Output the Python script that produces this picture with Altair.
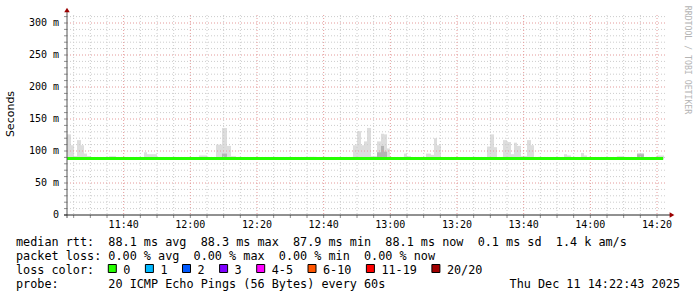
import altair as alt
import pandas as pd

# ---------------- data ----------------
def mins(s):
    p = s.split(":")
    sec = int(p[2]) if len(p) > 2 else 0
    return (int(p[0]) - 11) * 60 + int(p[1]) + sec / 60.0

smoke_start = ["11:23:00", "11:24:12", "11:25:06", "11:26:00", "11:27:12", "11:28:06", "11:29:00",
               "11:35:36", "11:46:06", "11:47:00", "12:02:36",
               "12:07:42", "12:09:30", "12:11:00", "12:12:12", "12:23:54", "12:35:36",
               "12:48:48", "12:50:00", "12:51:12", "12:52:06", "12:53:00", "12:54:12",
               "12:56:00", "12:57:12", "12:58:06", "12:59:00", "13:04:06", "13:05:00",
               "13:10:42", "13:12:12", "13:13:06", "13:14:00",
               "13:29:00", "13:29:54", "13:31:06",
               "13:33:48", "13:35:00", "13:36:12", "13:37:06", "13:38:00", "13:39:12", "13:41:00", "13:42:12",
               "13:52:06", "13:53:00", "13:57:12", "13:58:06", "14:05:00", "14:08:00", "14:14:00", "14:20:00"]
smoke_end = ["11:24:12", "11:25:06", "11:26:00", "11:27:12", "11:28:06", "11:29:00", "11:30:12",
             "11:37:42", "11:47:00", "11:50:00", "12:05:00",
             "12:09:30", "12:11:00", "12:12:12", "12:13:42", "12:26:00", "12:37:42",
             "12:50:00", "12:51:12", "12:52:06", "12:53:00", "12:54:12", "12:56:00",
             "12:57:12", "12:58:06", "12:59:00", "12:59:54", "13:05:00", "13:06:12",
             "13:12:12", "13:13:06", "13:14:00", "13:15:12",
             "13:29:54", "13:31:06", "13:32:00",
             "13:35:00", "13:36:12", "13:37:06", "13:38:00", "13:39:12", "13:41:00", "13:42:12", "13:43:06",
             "13:53:00", "13:54:12", "13:58:06", "13:59:00", "14:08:00", "14:09:48", "14:16:06", "14:22:06"]
smoke_top = [126, 109, 92, 117, 109, 96, 92,
             92, 98, 95, 93,
             110, 136, 108, 92, 90, 91,
             109, 131, 109, 115, 136, 92,
             115, 127, 126, 104, 96, 92,
             96, 94, 120, 109,
             107, 126, 106,
             117, 114, 95, 113, 108, 92, 117, 109,
             95, 93, 97, 93, 90, 92, 97, 93]

dark_start = ["12:09:30", "12:56:00", "12:57:12", "12:58:06", "14:14:00"]
dark_end = ["12:11:00", "12:57:12", "12:58:06", "12:59:00", "14:16:06"]
dark_top = [96, 98, 108, 99, 95]

smoke_floor = 87.0

median_times = ["11:23:00", "14:21:50"]
median_vals = [88.1, 88.1]

x_major = [40, 60, 80, 100, 120, 140, 160, 180, 200]          # minutes after 11:00
x_major_labels = ["11:40", "12:00", "12:20", "12:40", "13:00", "13:20", "13:40", "14:00", "14:20"]
x_minor = [m for m in range(25, 205, 5) if m % 20 != 0]
x_all = list(range(25, 205, 5))
y_major = [50, 100, 150, 200, 250, 300]
y_label_vals = [0, 50, 100, 150, 200, 250, 300]
y_labels = ["0", "50 m", "100 m", "150 m", "200 m", "250 m", "300 m"]
y_minor = [v for v in range(10, 320, 10) if v % 50 != 0]
y_all = list(range(0, 320, 10))

line1 = "median rtt:  88.1 ms avg  88.3 ms max  87.9 ms min  88.1 ms now  0.1 ms sd  1.4 k am/s"
line2 = "packet loss: 0.00 % avg  0.00 % max  0.00 % min  0.00 % now"
line3 = "loss color:"
line4 = "probe:       20 ICMP Echo Pings (56 Bytes) every 60s"
date_text = "Thu Dec 11 14:22:43 2025"
loss_labels = ["0", "1", "2", "3", "4-5", "6-10", "11-19", "20/20"]
loss_colors = ["#26ff00", "#00b8ff", "#0059ff", "#7e00ff", "#ff00ff", "#ff5500", "#ff0000", "#a10000"]

# ---------------- layout ----------------
W, H = 600, 200
CW = 7.1
MONO = "DejaVu Sans Mono"
nb = lambda s: s.replace(" ", "\u00a0")

xscale = alt.Scale(domain=[23, 203], nice=False, zero=False)
yscale = alt.Scale(domain=[0, 312.5], nice=False, zero=False)

smoke_df = pd.DataFrame({"t": [mins(s) for s in smoke_start], "t2": [mins(s) for s in smoke_end],
                         "lo": smoke_floor, "hi": smoke_top})
dark_df = pd.DataFrame({"t": [mins(s) for s in dark_start], "t2": [mins(s) for s in dark_end],
                        "lo": smoke_floor, "hi": dark_top})
med_df = pd.DataFrame({"t": [mins(s) for s in median_times], "v": median_vals})
dummy = pd.DataFrame({"a": [0]})

X = lambda f: alt.X(f, scale=xscale, axis=None, title=None)
Y = lambda f: alt.Y(f, scale=yscale, axis=None, title=None)

smoke = alt.Chart(smoke_df).mark_rect(color="#dddddd").encode(
    x=X("t:Q"), x2="t2:Q", y=Y("lo:Q"), y2="hi:Q")
dark = alt.Chart(dark_df).mark_rect(color="#b4b4b4").encode(
    x=X("t:Q"), x2="t2:Q", y=Y("lo:Q"), y2="hi:Q")

def vgrid(vals, color):
    return alt.Chart(pd.DataFrame({"t": vals})).mark_rule(color=color, strokeDash=[1, 2], strokeWidth=1).encode(
        x=X("t:Q"), y=alt.value(0), y2=alt.value(H))

def hgrid(vals, color):
    return alt.Chart(pd.DataFrame({"v": vals})).mark_rule(color=color, strokeDash=[1, 2], strokeWidth=1).encode(
        y=Y("v:Q"), x=alt.value(0), x2=alt.value(W))

grid = [vgrid(x_minor, "#cccccc"), hgrid(y_minor, "#cccccc"),
        vgrid(x_major, "#e49a9a"), hgrid(y_major, "#e49a9a")]

xticks = alt.Chart(pd.DataFrame({"t": x_all})).mark_rule(color="#909090").encode(
    x=X("t:Q"), y=alt.value(H), y2=alt.value(H + 3))
yticks = alt.Chart(pd.DataFrame({"v": y_all})).mark_rule(color="#909090").encode(
    y=Y("v:Q"), x=alt.value(-3), x2=alt.value(0))

median = alt.Chart(med_df).mark_line(color="#26ff00", strokeWidth=3).encode(x=X("t:Q"), y=Y("v:Q"))

yline = alt.Chart(dummy).mark_rule(color="#555555").encode(
    x=alt.value(0), y=alt.value(-5), y2=alt.value(H + 3))
xline = alt.Chart(dummy).mark_rule(color="#222222").encode(
    y=alt.value(H), x=alt.value(-3), x2=alt.value(W + 3))
arrow_up = alt.Chart(dummy).mark_point(shape="triangle-up", filled=True, size=30, color="#9b0000", opacity=1).encode(
    x=alt.value(0), y=alt.value(-5))
arrow_right = alt.Chart(dummy).mark_point(shape="triangle-right", filled=True, size=30, color="#9b0000", opacity=1).encode(
    x=alt.value(W + 5), y=alt.value(H))

# axis labels
xlab = alt.Chart(pd.DataFrame({"t": x_major, "lab": x_major_labels})).mark_text(
    align="center", baseline="middle", font=MONO, fontSize=10, color="#000000").encode(
    x=X("t:Q"), y=alt.value(H + 10), text="lab:N")
ylab = alt.Chart(pd.DataFrame({"v": y_label_vals, "lab": y_labels})).mark_text(
    align="right", baseline="middle", font=MONO, fontSize=10, color="#000000").encode(
    y=Y("v:Q"), x=alt.value(-8), text="lab:N")

def text_line(s, x, y, align="left", **kw):
    return alt.Chart(dummy).mark_text(text=nb(s), align=align, baseline="middle",
                                      font=MONO, fontSize=11.8, color="#000000", **kw).encode(
        x=alt.value(x), y=alt.value(y))

X0 = 16 - 67
texts = [text_line(line1, X0, 227), text_line(line2, X0, 241), text_line(line3, X0, 255),
         text_line(line4, X0, 269.3), text_line(date_text, 680 - 67, 269.3, align="right")]

# loss colour legend
box_x, lab_x = [], []
pos = 108.3 - 67
for lab in loss_labels:
    box_x.append(pos)
    lab_x.append(pos + 15)
    pos = pos + 15 + len(lab) * CW + 15
leg_df = pd.DataFrame({"label": loss_labels, "color": loss_colors, "bx": box_x,
                       "bx2": [b + 8 for b in box_x], "lx": lab_x})
boxes = alt.Chart(leg_df).mark_rect(stroke="#000000", strokeWidth=1).encode(
    x=alt.X("bx:Q", scale=None), x2="bx2:Q",
    y=alt.value(249.5), y2=alt.value(257.5),
    fill=alt.Color("color:N", scale=None))
box_labels = alt.Chart(leg_df).mark_text(align="left", baseline="middle", font=MONO, fontSize=11.8, color="#000000").encode(
    x=alt.X("lx:Q", scale=None), y=alt.value(255), text="label:N")

ytitle = alt.Chart(dummy).mark_text(text="Seconds", angle=270, align="center", baseline="middle",
                                    font="DejaVu Sans", fontSize=11, color="#000000").encode(
    x=alt.value(11 - 67), y=alt.value(99))
credit = alt.Chart(dummy).mark_text(text="RRDTOOL / TOBI OETIKER", angle=90, align="center", baseline="middle",
                                    font=MONO, fontSize=8.2, color="#b4b4b4").encode(
    x=alt.value(687 - 67), y=alt.value(45))

chart = alt.layer(
    smoke, dark, *grid, median, xticks, yticks, yline, xline, arrow_up, arrow_right,
    xlab, ylab, *texts, boxes, box_labels, ytitle, credit
).properties(
    width=W, height=H,
    padding={"left": 67, "top": 15, "right": 30, "bottom": 82},
    autosize=alt.AutoSizeParams(type="none"),
    background="#ffffff",
).configure_view(stroke=None)

chart.save("out.html", embed_options={"renderer": "svg", "actions": False})
